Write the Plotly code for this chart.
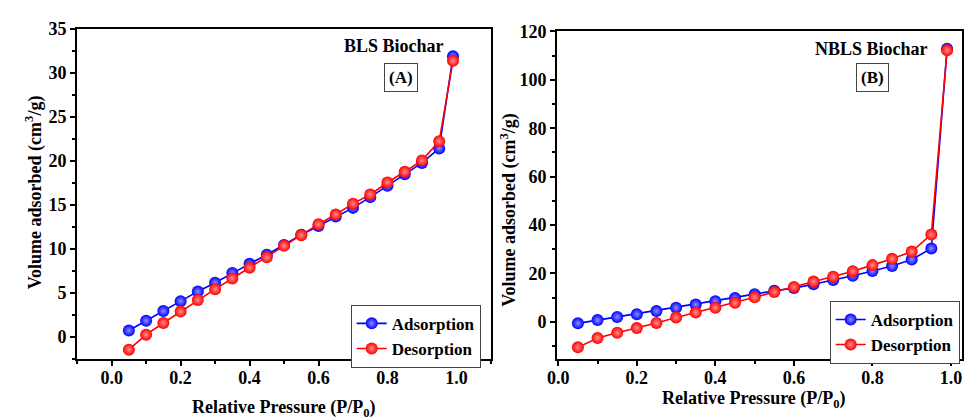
import plotly.graph_objects as go

# ---- data ----
pressure = [0.05, 0.10, 0.15, 0.20, 0.25, 0.30, 0.35, 0.40, 0.45, 0.50,
            0.55, 0.60, 0.65, 0.70, 0.75, 0.80, 0.85, 0.90, 0.95, 0.99]

bls_adsorption = [0.74, 1.85, 2.95, 4.06, 5.17, 6.16, 7.27, 8.30, 9.34, 10.45,
                  11.60, 12.60, 13.66, 14.65, 15.87, 17.16, 18.46, 19.75, 21.40, 31.86]
bls_desorption = [-1.44, 0.26, 1.59, 2.88, 4.20, 5.43, 6.64, 7.86, 9.04, 10.34,
                  11.55, 12.80, 13.90, 15.13, 16.17, 17.53, 18.75, 20.04, 22.22, 31.34]

nbls_adsorption = [-0.67, 0.67, 2.0, 3.1, 4.44, 5.8, 7.1, 8.5, 9.8, 11.4,
                   12.8, 13.9, 15.5, 17.2, 19.0, 21.0, 23.0, 25.7, 30.3, 112.9]
nbls_desorption = [-10.6, -6.7, -4.6, -2.6, -0.5, 1.75, 3.77, 5.8, 7.8, 10.1,
                   12.25, 14.4, 16.6, 18.6, 20.9, 23.4, 26.0, 29.0, 36.1, 112.2]

series_names = ["Adsorption", "Desorption"]
panel_titles = ["BLS Biochar", "NBLS Biochar"]
panel_tags = ["(A)", "(B)"]
x_title = "Relative Pressure (P/P<sub>0</sub>)"
y_title = "Volume adsorbed (cm<sup>3</sup>/g)"

x_ticks = [0.0, 0.2, 0.4, 0.6, 0.8, 1.0]
x_ticklabels = ["0.0", "0.2", "0.4", "0.6", "0.8", "1.0"]
y1_ticks = [0, 5, 10, 15, 20, 25, 30, 35]
y1_ticklabels = ["0", "5", "10", "15", "20", "25", "30", "35"]
y2_ticks = [0, 20, 40, 60, 80, 100, 120]
y2_ticklabels = ["0", "20", "40", "60", "80", "100", "120"]

FONT = "Liberation Serif"
BLUE = "#0000FF"
RED = "#FF0000"

W, H = 964, 419
def px(x):
    return x / W
def py(y):
    return 1 - y / H

def bold(labels):
    return ["<b>%s</b>" % t for t in labels]

fig = go.Figure()

def add_series(xa, ya, y, name, color, light, legend):
    fig.add_trace(go.Scatter(
        x=pressure, y=y, name="<b>%s</b>" % name, mode="lines+markers",
        xaxis=xa, yaxis=ya, legend=legend, showlegend=True,
        line=dict(color=color, width=1.6),
        marker=dict(size=12, color=color, line=dict(width=0),
                    gradient=dict(type="radial", color=light)),
    ))

add_series("x", "y", bls_adsorption, series_names[0], BLUE, "#8c8cff", "legend")
add_series("x", "y", bls_desorption, series_names[1], RED, "#ff8c8c", "legend")
add_series("x2", "y2", nbls_adsorption, series_names[0], BLUE, "#8c8cff", "legend2")
add_series("x2", "y2", nbls_desorption, series_names[1], RED, "#ff8c8c", "legend2")

tickfont = dict(family=FONT, size=18, color="black")
common_axis = dict(showgrid=False, zeroline=False, showline=True, linecolor="black",
                   linewidth=2, mirror=True, ticks="outside", ticklen=5, tickwidth=1.5,
                   tickcolor="black", tickfont=tickfont)

def minor(d):
    return dict(dtick=d, tick0=0, ticks="outside", ticklen=3,
                tickcolor="black", tickwidth=1.5)

fig.update_layout(
    width=W, height=H,
    margin=dict(l=0, r=0, t=0, b=0),
    paper_bgcolor="white", plot_bgcolor="white",
    font=dict(family=FONT, color="black"),
    xaxis=dict(domain=[px(68), px(487)], range=[-0.1, 1.1], anchor="y",
               tickmode="array", tickvals=x_ticks, ticktext=bold(x_ticklabels),
               ticklabelstandoff=-4, minor=minor(0.1), **common_axis),
    yaxis=dict(domain=[py(358), py(19)], range=[-2.55, 35], anchor="x",
               tickmode="array", tickvals=y1_ticks, ticktext=bold(y1_ticklabels),
               minor=minor(2.5), **common_axis),
    xaxis2=dict(domain=[px(554), 1.0], range=[-0.003, 1.028], anchor="y2",
                tickmode="array", tickvals=x_ticks, ticktext=bold(x_ticklabels),
                ticklabelstandoff=-4, minor=minor(0.1), **common_axis),
    yaxis2=dict(domain=[py(358), py(22)], range=[-15.6, 120], anchor="x2",
                tickmode="array", tickvals=y2_ticks, ticktext=bold(y2_ticklabels),
                minor=minor(10), **common_axis),
    legend=dict(x=px(345), y=py(302), xanchor="left", yanchor="top",
                bordercolor="#444", borderwidth=1, bgcolor="white",
                font=dict(family=FONT, size=17, color="black"),
                itemwidth=30, tracegroupgap=0),
    legend2=dict(x=px(830), y=py(298), xanchor="left", yanchor="top",
                 bordercolor="#444", borderwidth=1, bgcolor="white",
                 font=dict(family=FONT, size=17, color="black"),
                 itemwidth=30, tracegroupgap=0),
)

ann_font = dict(family=FONT, size=17, color="black")
annotations = [
    # axis titles
    dict(text=y_title, x=px(24), y=py(187), textangle=-90, size=18),
    dict(text=y_title, x=px(505), y=py(205), textangle=-90, size=18),
    dict(text=x_title, x=px(277), y=py(408), size=18),
    dict(text=x_title, x=px(753), y=py(399), size=18),
    # panel labels
    dict(text=panel_titles[0], x=px(389), y=py(37), size=18),
    dict(text=panel_titles[1], x=px(872), y=py(40), size=18),
    dict(text=panel_tags[0], x=px(396), y=py(69), bordercolor="#444",
         borderwidth=1, borderpad=4),
    dict(text=panel_tags[1], x=px(873), y=py(69), bordercolor="#444",
         borderwidth=1, borderpad=4),
]
for a in annotations:
    size = a.pop("size", 17)
    a["text"] = "<b>%s</b>" % a["text"]
    a.update(xref="paper", yref="paper", showarrow=False,
             font=dict(ann_font, size=size),
             xanchor="center", yanchor="middle")
    fig.add_annotation(**a)

fig.write_html("out.html")
